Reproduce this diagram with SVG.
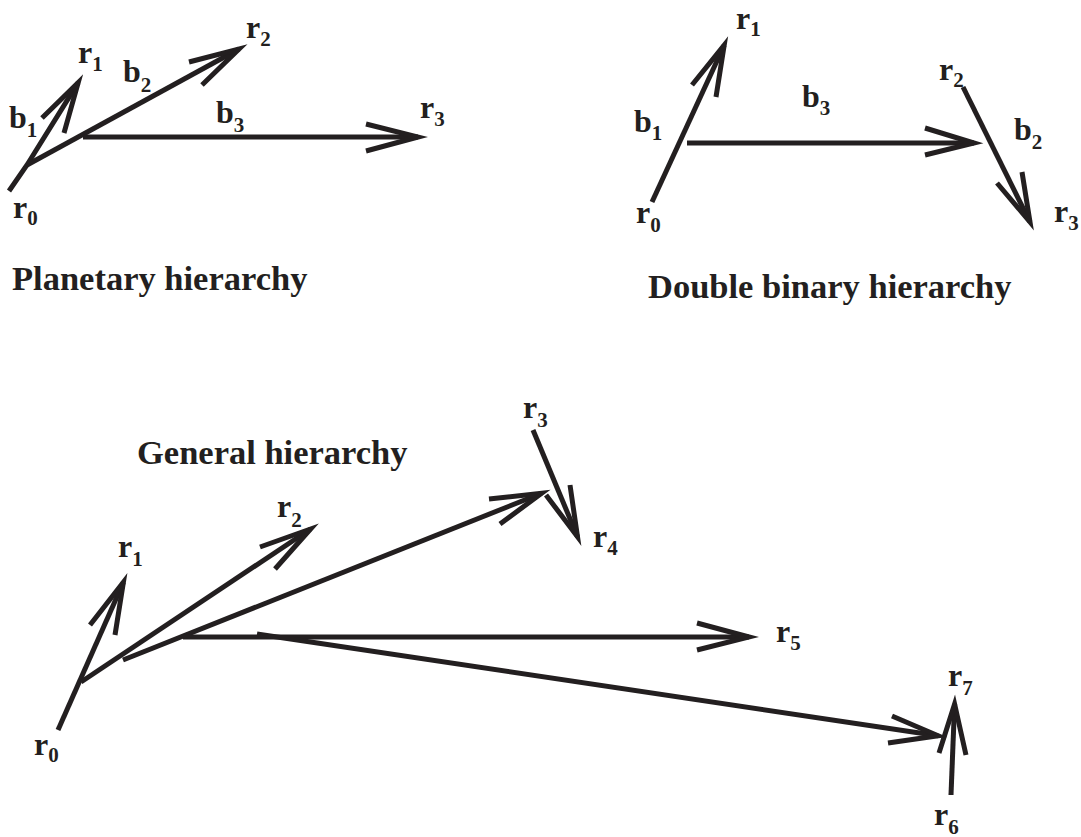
<svg xmlns="http://www.w3.org/2000/svg" width="1081" height="837" viewBox="0 0 1081 837">
<style>
.ln{fill:none;stroke:#231f20;stroke-width:5;stroke-linecap:butt;stroke-linejoin:miter;stroke-miterlimit:12}
text{font-family:"Liberation Serif","Times New Roman",serif;font-weight:bold;fill:#231f20}
.lb{font-size:32px}
.sb{font-size:21px}
.tt{font-size:34.5px}
</style>
<rect width="1081" height="837" fill="#fff"/>
<g id="connectors">
<polyline class="ln" points="9,191 27,165 78.2,82.6"/>
<polyline class="ln" points="42,118 78.2,82.6 64,133"/>
<line class="ln" x1="27" y1="165" x2="239" y2="49"/>
<polyline class="ln" points="189,62 239,49 202,85"/>
<line class="ln" x1="83" y1="137" x2="418" y2="137"/>
<polyline class="ln" points="366,124 418,137 366,151"/>
<line class="ln" x1="652" y1="202" x2="724.2" y2="45.2"/>
<polyline class="ln" points="692,85 724.2,45.2 716,97"/>
<line class="ln" x1="687" y1="143" x2="974" y2="143"/>
<polyline class="ln" points="925,128 974,143 925,155"/>
<line class="ln" x1="963" y1="87" x2="1030" y2="222"/>
<polyline class="ln" points="997,183 1030,222 1022,172"/>
<line class="ln" x1="58" y1="730" x2="123.4" y2="582.2"/>
<polyline class="ln" points="90,625 123.4,582.2 115,635"/>
<line class="ln" x1="81" y1="682" x2="310.5" y2="529"/>
<polyline class="ln" points="260,547 310.5,529 275,569"/>
<line class="ln" x1="123" y1="660" x2="541.6" y2="493.3"/>
<polyline class="ln" points="489,499 541.6,493.3 500,524"/>
<line class="ln" x1="533" y1="430" x2="577.5" y2="536.7"/>
<polyline class="ln" points="546,495 577.5,536.7 570,485"/>
<line class="ln" x1="183" y1="637" x2="749" y2="637"/>
<polyline class="ln" points="697,623 749,637 697,650"/>
<line class="ln" x1="257" y1="634" x2="938.1" y2="735.7"/>
<polyline class="ln" points="892,716 938.1,735.7 888,743"/>
<line class="ln" x1="951" y1="795" x2="954.6" y2="704"/>
<polyline class="ln" points="939,753 954.6,704 966,755"/>
</g>
<g id="planetary">
<text class="tt" x="12" y="290">Planetary hierarchy</text>
<g id="p-r0"><text class="lb" x="13" y="218">r<tspan class="sb" dy="7">0</tspan></text></g>
<g id="p-r1"><text class="lb" x="78" y="63">r<tspan class="sb" dy="8">1</tspan></text></g>
<g id="p-r2"><text class="lb" x="246" y="38">r<tspan class="sb" dy="8">2</tspan></text></g>
<g id="p-r3"><text class="lb" x="420" y="118">r<tspan class="sb" dy="8">3</tspan></text></g>
<g id="p-b1"><text class="lb" x="9" y="128">b<tspan class="sb" dy="9">1</tspan></text></g>
<g id="p-b2"><text class="lb" x="123" y="82">b<tspan class="sb" dy="10">2</tspan></text></g>
<g id="p-b3"><text class="lb" x="216" y="123">b<tspan class="sb" dy="9">3</tspan></text></g>
</g>
<g id="doublebinary">
<text class="tt" x="648" y="298">Double binary hierarchy</text>
<g id="d-r0"><text class="lb" x="636" y="223">r<tspan class="sb" dy="9">0</tspan></text></g>
<g id="d-r1"><text class="lb" x="736" y="29">r<tspan class="sb" dy="7">1</tspan></text></g>
<g id="d-r2"><text class="lb" x="939" y="80">r<tspan class="sb" dy="7">2</tspan></text></g>
<g id="d-r3"><text class="lb" x="1054" y="222">r<tspan class="sb" dy="8">3</tspan></text></g>
<g id="d-b1"><text class="lb" x="634" y="132">b<tspan class="sb" dy="8">1</tspan></text></g>
<g id="d-b2"><text class="lb" x="1014" y="140">b<tspan class="sb" dy="9">2</tspan></text></g>
<g id="d-b3"><text class="lb" x="802" y="107">b<tspan class="sb" dy="8">3</tspan></text></g>
</g>
<g id="general">
<text class="tt" x="137" y="464">General hierarchy</text>
<g id="g-r0"><text class="lb" x="34" y="755">r<tspan class="sb" dy="7">0</tspan></text></g>
<g id="g-r1"><text class="lb" x="118" y="557">r<tspan class="sb" dy="9">1</tspan></text></g>
<g id="g-r2"><text class="lb" x="277" y="517">r<tspan class="sb" dy="10">2</tspan></text></g>
<g id="g-r3"><text class="lb" x="523" y="418">r<tspan class="sb" dy="9">3</tspan></text></g>
<g id="g-r4"><text class="lb" x="593" y="547">r<tspan class="sb" dy="8">4</tspan></text></g>
<g id="g-r5"><text class="lb" x="776" y="642">r<tspan class="sb" dy="8">5</tspan></text></g>
<g id="g-r6"><text class="lb" x="934" y="825">r<tspan class="sb" dy="9">6</tspan></text></g>
<g id="g-r7"><text class="lb" x="948" y="686">r<tspan class="sb" dy="9">7</tspan></text></g>
</g>
</svg>
